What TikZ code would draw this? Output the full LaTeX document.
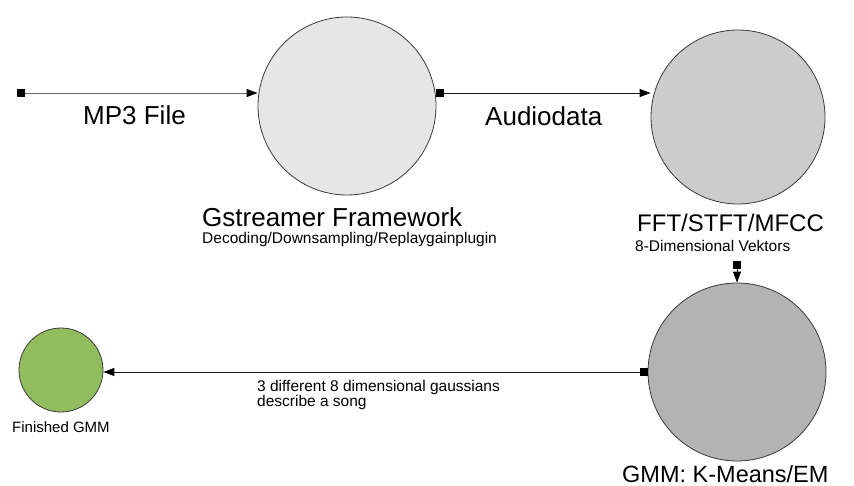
\documentclass[tikz,border=0pt]{standalone}
\usepackage{fontspec}
\setmainfont{Liberation Sans}
\usetikzlibrary{arrows.meta}
\definecolor{gstfill}{HTML}{E6E6E6}
\definecolor{fftfill}{HTML}{CCCCCC}
\definecolor{gmmfill}{HTML}{B3B3B3}
\definecolor{finfill}{HTML}{92BD5E}
\definecolor{edgecol}{HTML}{3A3A3A}
\tikzset{
  stage/.style={circle, draw=edgecol, line width=0.8pt, inner sep=0pt},
  flow/.style={line width=0.9pt, draw=black!90,
    {Square[length=8pt,width=8pt,color=black]}-{Triangle[length=11pt,width=8pt,color=black]}},
  big/.style={inner sep=0pt, anchor=base west, font=\fontsize{26}{30}\selectfont},
  small/.style={inner sep=0pt, anchor=base west, font=\fontsize{15.5}{15}\selectfont},
}
\begin{document}
\begin{tikzpicture}[x=1pt,y=-1pt]
\useasboundingbox (0,0) rectangle (854,486);
% stages
\node[stage, fill=gstfill, minimum size=178pt] (gst) at (347,106) {};
\node[stage, fill=fftfill, minimum size=174pt] (fft) at (738,117) {};
\node[stage, fill=gmmfill, minimum size=178pt] (gmm) at (737,372) {};
\node[stage, fill=finfill, minimum size=84pt] (fin) at (61,370) {};
% connector ends
\coordinate (src) at (17,93);
\coordinate (gout) at (436,93);
\coordinate (fout) at (737,261);
% connectors
\draw[flow, draw=black!60] (src) -- (gst.west |- src);
\draw[flow] (gout) -- (fft.west |- gout);
\draw[flow] (fout) -- (gmm.north);
\draw[flow] (gmm.west) -- (fin.east |- gmm.west);
% labels
\node[big] (lmp3) at (83,125) {MP3 File};
\node[big] (laud) at (485,126) {Audiodata};
\node[big] (lgst) at (202,227) {Gstreamer Framework};
\node[small] (lgst2) at (202,244) {Decoding/Downsampling/Replaygainplugin};
\node[big, font=\fontsize{24}{28}\selectfont] (lfft) at (637,232) {FFT/STFT/MFCC};
\node[small] (lfft2) at (635,252) {8-Dimensional Vektors};
\node[small, anchor=north west, align=left] (lgau) at (257,379.7) {3 different 8 dimensional gaussians\\describe a song};
\node[small, font=\fontsize{15}{15}\selectfont] (lfin) at (12,432) {Finished GMM};
\node[big, font=\fontsize{23.5}{28}\selectfont] (lgmm) at (622,482) {GMM: K-Means/EM};
\end{tikzpicture}
\end{document}
